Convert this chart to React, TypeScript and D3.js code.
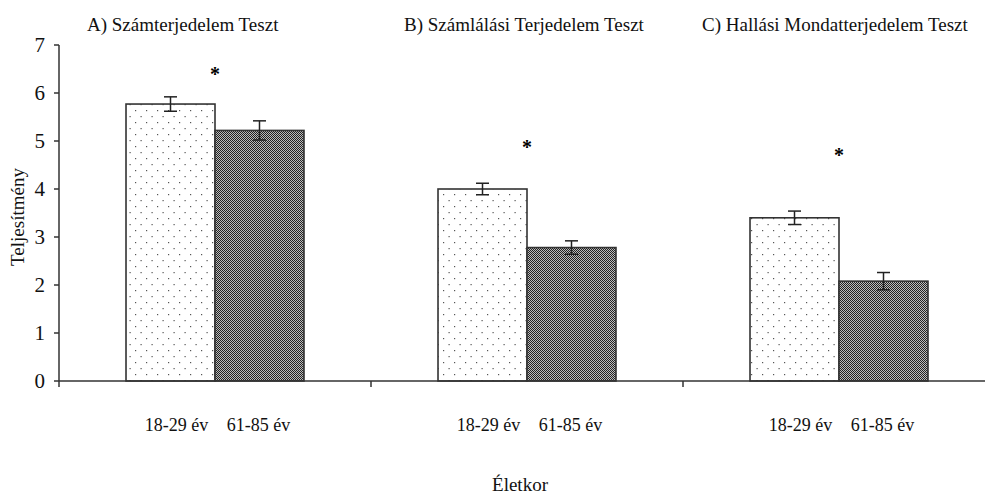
import React from "react";
import * as d3 from "d3";

// Test panels, age groups and measured means with standard errors
const tests = ["A) Számterjedelem Teszt", "B) Számlálási Terjedelem Teszt", "C) Hallási Mondatterjedelem Teszt"];
const ageGroups = ["18-29 év", "61-85 év"];
const youngMeans = [5.77, 4.0, 3.4];
const youngErrors = [0.15, 0.12, 0.14];
const oldMeans = [5.22, 2.78, 2.08];
const oldErrors = [0.2, 0.14, 0.18];
const starLevels = [6.5, 4.97, 4.82];
const yTicks = [0, 1, 2, 3, 4, 5, 6, 7];

const W = 985;
const H = 495;
const left = 59;
const groupW = 312;
const top = 45;
const bottom = 381;
const font = "'Liberation Serif', 'Times New Roman', serif";
const ink = "#333";

export default function App() {
  const y = d3.scaleLinear().domain([0, 7]).range([bottom, top]);
  const xGroup = d3.scaleBand<string>().domain(tests).range([left, left + groupW * tests.length]).padding(0);
  const xAge = d3.scaleBand<string>().domain(ageGroups).range([0, groupW]).paddingInner(0).paddingOuter(0.753);
  const bw = xAge.bandwidth();
  const titleX = [87, 404, 702];

  const series = [
    { means: youngMeans, errs: youngErrors, fill: "url(#dots)" },
    { means: oldMeans, errs: oldErrors, fill: "url(#fineGrid)" },
  ];

  return (
    <svg width={W} height={H} style={{ position: "absolute", left: 0, top: 0, background: "#fff" }}>
      <defs>
        <pattern id="dots" width={11} height={12} patternUnits="userSpaceOnUse">
          <rect width={11} height={12} fill="#fff" />
          <rect x={3} y={2} width={1.2} height={1.2} fill="#555" />
          <rect x={8.5} y={8} width={1.2} height={1.2} fill="#555" />
        </pattern>
        <pattern id="fineGrid" width={2} height={2} patternUnits="userSpaceOnUse">
          <rect width={2} height={2} fill="#bcbcbc" />
          <rect x={0} y={0} width={1} height={1} fill="#222" />
          <rect x={1} y={1} width={1} height={1} fill="#222" />
        </pattern>
      </defs>

      {/* bars */}
      {tests.map((t, gi) =>
        series.map((s, si) => {
          const x0 = (xGroup(t) as number) + (xAge(ageGroups[si]) as number);
          const yv = y(s.means[gi]);
          return (
            <rect key={`${gi}-${si}`} x={x0} y={yv} width={bw} height={bottom - yv}
              fill={s.fill} stroke={ink} strokeWidth={1.6} />
          );
        })
      )}

      {/* error bars */}
      {tests.map((t, gi) =>
        series.map((s, si) => {
          const cx = (xGroup(t) as number) + (xAge(ageGroups[si]) as number) + bw / 2;
          const y1 = y(s.means[gi] + s.errs[gi]);
          const y2 = y(s.means[gi] - s.errs[gi]);
          return (
            <g key={`e${gi}-${si}`} stroke="#222" strokeWidth={1.5}>
              <line x1={cx} x2={cx} y1={y1} y2={y2} />
              <line x1={cx - 6.5} x2={cx + 6.5} y1={y1} y2={y1} />
              <line x1={cx - 6.5} x2={cx + 6.5} y1={y2} y2={y2} />
            </g>
          );
        })
      )}

      {/* significance markers */}
      {tests.map((t, gi) => (
        <text key={`s${gi}`} x={(xGroup(t) as number) + groupW / 2} y={y(starLevels[gi]) + 12}
          fontFamily={font} fontSize={20} fontWeight="bold" textAnchor="middle" fill="#000">*</text>
      ))}

      {/* y axis */}
      <line x1={left} x2={left} y1={top} y2={bottom} stroke={ink} strokeWidth={1.5} />
      {yTicks.map((v) => (
        <g key={`y${v}`}>
          <line x1={left - 5} x2={left} y1={y(v)} y2={y(v)} stroke={ink} strokeWidth={1.5} />
          <text x={left - 14} y={y(v) + 7} fontFamily={font} fontSize={21} textAnchor="end" fill="#111">{v}</text>
        </g>
      ))}

      {/* x axis */}
      <line x1={left} x2={W} y1={bottom} y2={bottom} stroke={ink} strokeWidth={1.5} />
      {tests.map((t) => (
        <line key={`xt${t}`} x1={xGroup(t) as number} x2={xGroup(t) as number} y1={bottom} y2={bottom + 6}
          stroke={ink} strokeWidth={1.5} />
      ))}
      {tests.map((t, gi) =>
        ageGroups.map((a, ai) => (
          <text key={`l${gi}${a}`} x={(xGroup(t) as number) + (xAge(a) as number) + bw / 2 + (ai === 0 ? 6 : -1)} y={431}
            fontFamily={font} fontSize={18} textAnchor="middle" fill="#111">{a}</text>
        ))
      )}

      {/* panel titles */}
      {tests.map((t, gi) => (
        <text key={`t${gi}`} x={titleX[gi]} y={31} fontFamily={font} fontSize={19} fill="#111">{t}</text>
      ))}

      {/* axis titles */}
      <text x={520} y={491} fontFamily={font} fontSize={19} textAnchor="middle" fill="#111">Életkor</text>
      <text transform={`translate(24, ${(top + bottom) / 2 + 4}) rotate(-90)`} fontFamily={font} fontSize={19}
        textAnchor="middle" fill="#111">Teljesítmény</text>
    </svg>
  );
}
